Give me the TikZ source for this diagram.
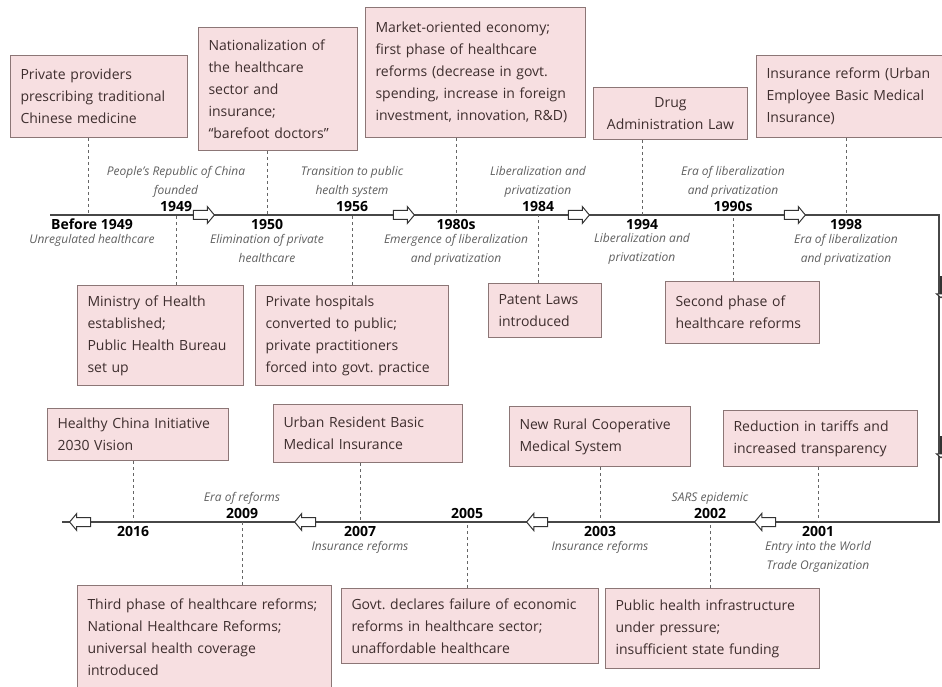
\documentclass[tikz,border=0pt]{standalone}
\usepackage{fontspec}
\setmainfont{Open Sans}
\usepackage{tikz}
\usetikzlibrary{positioning, shapes.arrows}
\definecolor{boxfill}{RGB}{247,223,225}
\definecolor{boxline}{RGB}{140,118,118}
\definecolor{boxtext}{RGB}{62,46,46}
\definecolor{notegray}{RGB}{95,95,95}
\frenchspacing

\begin{document}
\begin{tikzpicture}[x=1pt,y=-1pt,
	evbox/.style={draw=boxline, line width=1pt, fill=boxfill, text=boxtext, font=\fontsize{14}{22}\selectfont, align=left, inner xsep=10pt, inner ysep=0pt, anchor=north west, text width=#1},
	year/.style={font=\fontsize{14}{16}\selectfont\bfseries, inner sep=1pt},
	note/.style={font=\fontsize{12}{19}\selectfont\itshape, text=notegray, align=center, inner sep=1pt},
	tline/.style={draw=black!72, line width=1.6pt},
	conn/.style={draw=black!60, line width=1pt, dash pattern=on 3pt off 3pt},
	flow/.style={single arrow, draw=black!80, line width=1pt, fill=white, minimum height=21pt, inner xsep=0pt, inner ysep=4pt, single arrow head extend=4pt, single arrow tip angle=100}]
	\useasboundingbox (0,0) rectangle (942,687);

	\coordinate (lineStart) at (50,215);
	\coordinate (cornerTR) at (939,215);
	\coordinate (cornerBR) at (939,522);
	\coordinate (lineEnd) at (62,522);
	\coordinate (tBefore) at (88,215);
	\coordinate (t1949) at (176,215);
	\coordinate (t1950) at (267,215);
	\coordinate (t1956) at (352,215);
	\coordinate (t1980) at (456,215);
	\coordinate (t1984) at (538,215);
	\coordinate (t1994) at (642,215);
	\coordinate (t1990) at (733,215);
	\coordinate (t1998) at (846,215);
	\coordinate (t2016) at (133,522);
	\coordinate (t2009) at (242,522);
	\coordinate (t2007) at (360,522);
	\coordinate (t2005) at (467,522);
	\coordinate (t2003) at (600,522);
	\coordinate (t2002) at (710,522);
	\coordinate (t2001) at (818,522);

	\draw[tline, line join=miter] (lineStart) -- (cornerTR) -- (cornerBR) -- (lineEnd);

	\node[evbox=157pt, minimum height=82pt] (bPrivate) at (10,55) {Private providers\\prescribing traditional\\Chinese medicine};
	\node[evbox=139pt, minimum height=123pt] (bNation) at (198,27) {Nationalization of\\the healthcare\\sector and\\insurance;\\``barefoot doctors''};
	\node[evbox=200pt, minimum height=130pt] (bMarket) at (365,7) {Market-oriented economy;\\first phase of healthcare\\reforms (decrease in govt.\\spending, increase in foreign\\investment, innovation, R\&D)};
	\node[evbox=134pt, align=center, minimum height=52pt] (bDrug) at (593,87) {Drug\\Administration Law};
	\node[evbox=180pt, minimum height=82pt] (bInsur) at (756,55) {Insurance reform (Urban\\Employee Basic Medical\\Insurance)};
	\node[evbox=146pt, minimum height=100pt] (bMinistry) at (77,285) {Ministry of Health\\established;\\Public Health Bureau\\set up};
	\node[evbox=173pt, minimum height=100pt] (bHosp) at (255,285) {Private hospitals\\converted to public;\\private practitioners\\forced into govt. practice};
	\node[evbox=93pt, minimum height=54pt] (bPatent) at (488,283) {Patent Laws\\introduced};
	\node[evbox=134pt, minimum height=62pt] (bSecond) at (665,281) {Second phase of\\healthcare reforms};
	\node[evbox=161pt, minimum height=52pt] (bHealthy) at (47,408) {Healthy China Initiative\\2030 Vision};
	\node[evbox=169pt, minimum height=58pt] (bUrban) at (273,404) {Urban Resident Basic\\Medical Insurance};
	\node[evbox=161pt, minimum height=60pt] (bRural) at (509,406) {New Rural Cooperative\\Medical System};
	\node[evbox=174pt, minimum height=56pt] (bTariff) at (723,410) {Reduction in tariffs and\\increased transparency};
	\node[evbox=234pt, minimum height=104pt] (bThird) at (77,585) {Third phase of healthcare reforms;\\National Healthcare Reforms;\\universal health coverage\\introduced};
	\node[evbox=237pt, minimum height=75pt] (bGovt) at (341,588) {Govt. declares failure of economic\\reforms in healthcare sector;\\unaffordable healthcare};
	\node[evbox=194pt, minimum height=80pt] (bPublic) at (605,588) {Public health infrastructure\\under pressure;\\insufficient state funding};

	\draw[conn] (bPrivate.south -| tBefore) -- (tBefore);
	\draw[conn] (bMinistry.north -| t1949) -- (t1949);
	\draw[conn] (bNation.south -| t1950) -- (t1950);
	\draw[conn] (bHosp.north -| t1956) -- (t1956);
	\draw[conn] (bMarket.south -| t1980) -- (t1980);
	\draw[conn] (bPatent.north -| t1984) -- (t1984);
	\draw[conn] (bDrug.south -| t1994) -- (t1994);
	\draw[conn] (bSecond.north -| t1990) -- (t1990);
	\draw[conn] (bInsur.south -| t1998) -- (t1998);
	\draw[conn] (bHealthy.south -| t2016) -- (t2016);
	\draw[conn] (bThird.north -| t2009) -- (t2009);
	\draw[conn] (bUrban.south -| t2007) -- (t2007);
	\draw[conn] (bGovt.north -| t2005) -- (t2005);
	\draw[conn] (bRural.south -| t2003) -- (t2003);
	\draw[conn] (bPublic.north -| t2002) -- (t2002);
	\draw[conn] (bTariff.south -| t2001) -- (t2001);

	\node[year, below=3pt of tBefore, xshift=4pt] (yBefore) {Before 1949};
	\node[note, below=2pt of yBefore] (nBefore) {Unregulated healthcare};
	\node[year, above=2pt of t1949] (y1949) {1949};
	\node[note, above=2pt of y1949] (n1949) {People's Republic of China\\founded};
	\node[year, below=3pt of t1950] (y1950) {1950};
	\node[note, below=2pt of y1950] (n1950) {Elimination of private\\healthcare};
	\node[year, above=2pt of t1956] (y1956) {1956};
	\node[note, above=2pt of y1956] (n1956) {Transition to public\\health system};
	\node[year, below=3pt of t1980] (y1980) {1980s};
	\node[note, below=2pt of y1980] (n1980) {Emergence of liberalization\\and privatization};
	\node[year, above=2pt of t1984] (y1984) {1984};
	\node[note, above=2pt of y1984] (n1984) {Liberalization and\\privatization};
	\node[year, below=3pt of t1994] (y1994) {1994};
	\node[note, below=2pt of y1994] (n1994) {Liberalization and\\privatization};
	\node[year, above=2pt of t1990] (y1990) {1990s};
	\node[note, above=2pt of y1990] (n1990) {Era of liberalization\\and privatization};
	\node[year, below=3pt of t1998] (y1998) {1998};
	\node[note, below=2pt of y1998] (n1998) {Era of liberalization\\and privatization};

	\node[year, below=3pt of t2016] (y2016) {2016};
	\node[year, above=2pt of t2009] (y2009) {2009};
	\node[note, above=2pt of y2009] (n2009) {Era of reforms};
	\node[year, below=3pt of t2007] (y2007) {2007};
	\node[note, below=2pt of y2007] (n2007) {Insurance reforms};
	\node[year, above=2pt of t2005] (y2005) {2005};
	\node[year, below=3pt of t2003] (y2003) {2003};
	\node[note, below=2pt of y2003] (n2003) {Insurance reforms};
	\node[year, above=2pt of t2002] (y2002) {2002};
	\node[note, above=2pt of y2002] (n2002) {SARS epidemic};
	\node[year, below=3pt of t2001] (y2001) {2001};
	\node[note, below=2pt of y2001] (n2001) {Entry into the World\\Trade Organization};

	\node[flow] (fA) at (202,215) {};
	\node[flow] (fB) at (402,215) {};
	\node[flow] (fC) at (577,215) {};
	\node[flow] (fD) at (793,215) {};
	\node[flow, shape border rotate=270] (fE) at (941,287) {};
	\node[flow, shape border rotate=270] (fF) at (941,447) {};
	\node[flow, shape border rotate=180] (fG) at (767,522) {};
	\node[flow, shape border rotate=180] (fH) at (539,522) {};
	\node[flow, shape border rotate=180] (fI) at (307,522) {};
	\node[flow, shape border rotate=180] (fJ) at (82,522) {};
\end{tikzpicture}
\end{document}
